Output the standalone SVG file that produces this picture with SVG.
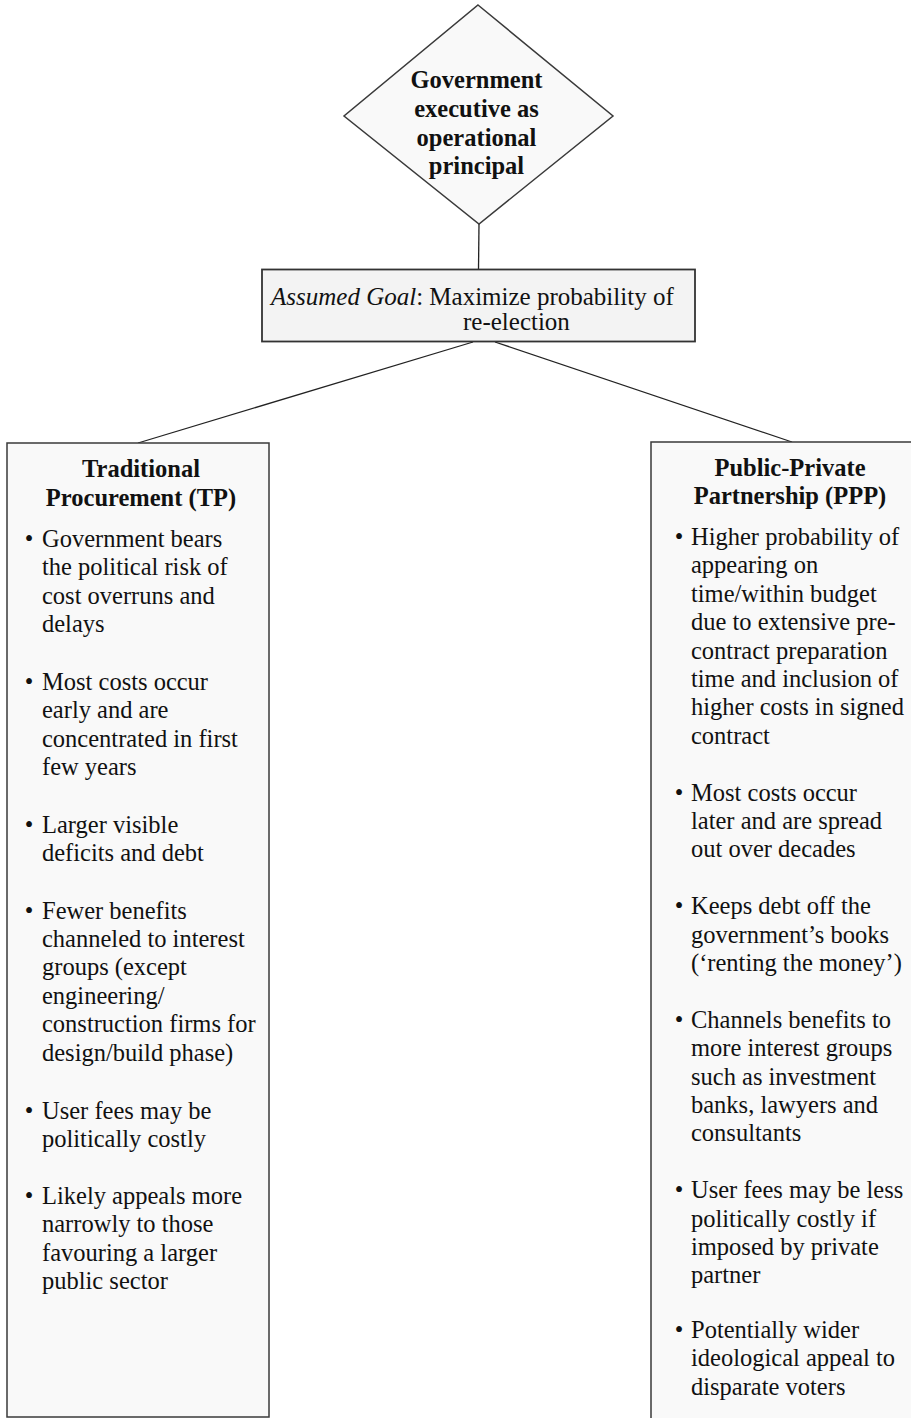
<svg xmlns="http://www.w3.org/2000/svg" width="911" height="1418" viewBox="0 0 911 1418">
<style>
.shape{fill:#f9f9f9;stroke:#3a3a3a;stroke-width:1.5}
.goal{fill:#f3f3f3;stroke:#333;stroke-width:1.8}
.t{font-family:"Liberation Serif","Times New Roman",serif;font-size:24.5px;fill:#111}
.g{font-size:25px}
.b{font-weight:bold;text-anchor:middle}
.c{stroke:#222;stroke-width:1.3;fill:none}
</style>
<rect width="911" height="1418" fill="#ffffff"/>
<g id="connectors">
<line class="c" x1="479" y1="224" x2="478.5" y2="269"/>
<line class="c" x1="473" y1="342" x2="138" y2="443"/>
<line class="c" x1="495" y1="342" x2="792" y2="442"/>
</g>
<g id="principal">
<polygon class="shape" points="478,5 613,116 479,224 344,116"/>
<text class="t b" x="476.5" y="88">Government</text>
<text class="t b" x="476.5" y="117">executive as</text>
<text class="t b" x="476.5" y="145.5">operational</text>
<text class="t b" x="476.5" y="174">principal</text>
</g>
<g id="goal">
<rect class="goal" x="262" y="269.5" width="433" height="72"/>
<text class="t g" x="271" y="305"><tspan font-style="italic">Assumed Goal</tspan>: Maximize probability of</text>
<text class="t g" x="463" y="330">re-election</text>
</g>
<g id="tp">
<rect class="shape" x="7" y="443" width="262" height="974"/>
<text class="t b" x="141" y="477">Traditional</text>
<text class="t b" x="141" y="505.5">Procurement (TP)</text>
<g class="t">
<text x="29" y="547" text-anchor="middle">•</text>
<text x="42" y="547">Government bears</text>
<text x="42" y="575.4">the political risk of</text>
<text x="42" y="603.8">cost overruns and</text>
<text x="42" y="632.2">delays</text>
<text x="29" y="690" text-anchor="middle">•</text>
<text x="42" y="690">Most costs occur</text>
<text x="42" y="718.4">early and are</text>
<text x="42" y="746.8">concentrated in first</text>
<text x="42" y="775.2">few years</text>
<text x="29" y="832.8" text-anchor="middle">•</text>
<text x="42" y="832.8">Larger visible</text>
<text x="42" y="861.2">deficits and debt</text>
<text x="29" y="918.5" text-anchor="middle">•</text>
<text x="42" y="918.5">Fewer benefits</text>
<text x="42" y="946.9">channeled to interest</text>
<text x="42" y="975.3">groups (except</text>
<text x="42" y="1003.7">engineering/</text>
<text x="42" y="1032.1">construction firms for</text>
<text x="42" y="1060.5">design/build phase)</text>
<text x="29" y="1118.5" text-anchor="middle">•</text>
<text x="42" y="1118.5">User fees may be</text>
<text x="42" y="1146.9">politically costly</text>
<text x="29" y="1204" text-anchor="middle">•</text>
<text x="42" y="1204">Likely appeals more</text>
<text x="42" y="1232.4">narrowly to those</text>
<text x="42" y="1260.8">favouring a larger</text>
<text x="42" y="1289.2">public sector</text>
</g>
</g>
<g id="ppp">
<rect class="shape" x="651" y="442" width="270" height="990"/>
<text class="t b" x="790" y="475.5">Public-Private</text>
<text class="t b" x="790" y="504">Partnership (PPP)</text>
<g class="t">
<text x="679" y="545" text-anchor="middle">•</text>
<text x="691" y="545">Higher probability of</text>
<text x="691" y="573.4">appearing on</text>
<text x="691" y="601.8">time/within budget</text>
<text x="691" y="630.2">due to extensive pre-</text>
<text x="691" y="658.6">contract preparation</text>
<text x="691" y="687">time and inclusion of</text>
<text x="691" y="715.4">higher costs in signed</text>
<text x="691" y="743.8">contract</text>
<text x="679" y="800.6" text-anchor="middle">•</text>
<text x="691" y="800.6">Most costs occur</text>
<text x="691" y="829">later and are spread</text>
<text x="691" y="857.4">out over decades</text>
<text x="679" y="914.2" text-anchor="middle">•</text>
<text x="691" y="914.2">Keeps debt off the</text>
<text x="691" y="942.6">government’s books</text>
<text x="691" y="971">(‘renting the money’)</text>
<text x="679" y="1027.8" text-anchor="middle">•</text>
<text x="691" y="1027.8">Channels benefits to</text>
<text x="691" y="1056.2">more interest groups</text>
<text x="691" y="1084.6">such as investment</text>
<text x="691" y="1113">banks, lawyers and</text>
<text x="691" y="1141.4">consultants</text>
<text x="679" y="1198.2" text-anchor="middle">•</text>
<text x="691" y="1198.2">User fees may be less</text>
<text x="691" y="1226.6">politically costly if</text>
<text x="691" y="1255">imposed by private</text>
<text x="691" y="1283.4">partner</text>
<text x="679" y="1338" text-anchor="middle">•</text>
<text x="691" y="1338">Potentially wider</text>
<text x="691" y="1366.4">ideological appeal to</text>
<text x="691" y="1394.8">disparate voters</text>
</g>
</g>
</svg>
